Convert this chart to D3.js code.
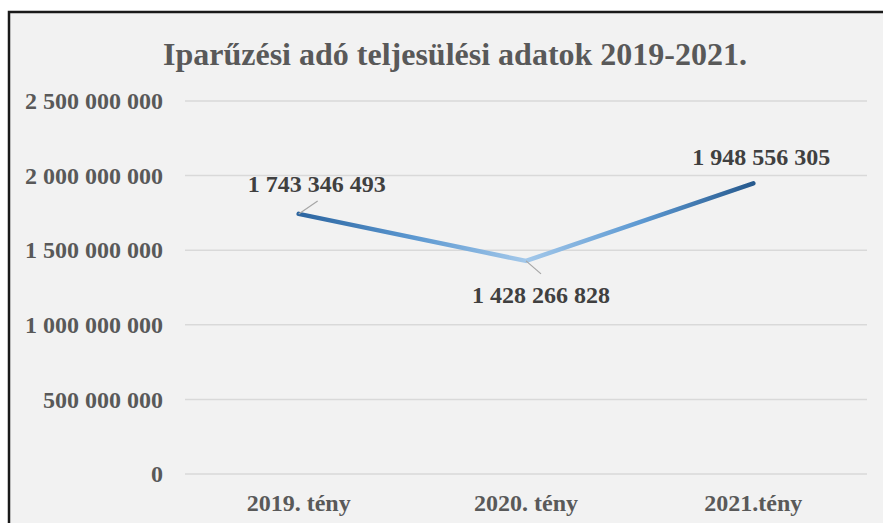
<!DOCTYPE html>
<meta charset="utf-8">
<html>
<head>
<script src="https://d3js.org/d3.v7.min.js"></script>
<style>
  body { margin: 0; background: #ffffff; overflow: hidden; }
  svg { display: block; font-family: "Liberation Serif", "Times New Roman", serif; }
</style>
</head>
<body>
<div id="chart"></div>
<script>
  // data
  const categories = ["2019. tény", "2020. tény", "2021.tény"];
  const values = [1743346493, 1428266828, 1948556305];
  const yTicks = [0, 500000000, 1000000000, 1500000000, 2000000000, 2500000000];
  const title = "Iparűzési adó teljesülési adatok 2019-2021.";

  const W = 883, H = 523;
  const margin = {top: 101, right: 16, bottom: 49, left: 185};
  const width = W - margin.left - margin.right,
        height = H - margin.top - margin.bottom;

  const fmt = v => d3.format(",")(v).replace(/,/g, " ");

  const svg = d3.select("#chart").append("svg")
      .attr("width", W)
      .attr("height", H);

  // chart area background + frame (right and bottom run off the picture)
  svg.append("rect")
      .attr("x", 9).attr("y", 12)
      .attr("width", W + 20).attr("height", H)
      .attr("fill", "#f2f2f2")
      .attr("stroke", "#1a1a1a")
      .attr("stroke-width", 2.5);

  svg.append("text")
      .attr("x", 455).attr("y", 65)
      .attr("text-anchor", "middle")
      .style("font-size", "32px")
      .style("font-weight", "bold")
      .attr("fill", "#595959")
      .text(title);

  const g = svg.append("g")
      .attr("transform", `translate(${margin.left},${margin.top})`);

  const x = d3.scaleBand()
      .domain(categories)
      .range([0, width]);

  const y = d3.scaleLinear()
      .domain([0, 2500000000])
      .range([height, 0]);

  // grid lines
  g.append("g")
    .selectAll("line")
    .data(yTicks)
    .join("line")
      .attr("x1", 0).attr("x2", width)
      .attr("y1", d => y(d)).attr("y2", d => y(d))
      .attr("stroke", "#d9d9d9")
      .attr("stroke-width", 1.5);

  // y axis
  const yAxis = g.append("g")
      .call(d3.axisLeft(y).tickValues(yTicks).tickFormat(fmt).tickSize(0).tickPadding(22));
  yAxis.select(".domain").remove();
  yAxis.selectAll("text")
      .style("font-size", "24px")
      .style("font-weight", "bold")
      .style("font-family", "Liberation Serif, serif")
      .attr("fill", "#595959");

  // x axis
  const xAxis = g.append("g")
      .attr("transform", `translate(0,${height})`)
      .call(d3.axisBottom(x).tickSize(0).tickPadding(0));
  xAxis.select(".domain").remove();
  xAxis.selectAll("text")
      .attr("dy", null)
      .attr("y", 37)
      .style("font-size", "24px")
      .style("font-weight", "bold")
      .style("font-family", "Liberation Serif, serif")
      .attr("fill", "#595959");

  const pts = categories.map((c, i) => ({c, v: values[i], px: x(c) + x.bandwidth() / 2, py: y(values[i])}));

  // gradient along the line: dark ends, light middle
  const grad = svg.append("defs").append("linearGradient")
      .attr("id", "lineGrad")
      .attr("gradientUnits", "userSpaceOnUse")
      .attr("x1", pts[0].px).attr("x2", pts[2].px)
      .attr("y1", 0).attr("y2", 0);
  grad.selectAll("stop")
    .data([
      {o: 0, c: "#2c65a0"},
      {o: 0.25, c: "#5b97d0"},
      {o: 0.5, c: "#a3c8ea"},
      {o: 0.75, c: "#5d99d2"},
      {o: 1, c: "#275a8e"}
    ])
    .join("stop")
      .attr("offset", d => d.o)
      .attr("stop-color", d => d.c);

  g.append("path")
      .datum(pts)
      .attr("d", d3.line().x(d => d.px).y(d => d.py))
      .attr("fill", "none")
      .attr("stroke", "url(#lineGrad)")
      .attr("stroke-width", 4.5)
      .attr("stroke-linecap", "round")
      .attr("stroke-linejoin", "round");

  // data labels with leader lines
  const labelPos = [
    {dx: 18, dy: -22, lx: 19, ly: -13},
    {dx: 15, dy: 42, lx: 15, ly: 13},
    {dx: 8, dy: -18, lx: null, ly: null}
  ];

  pts.forEach((p, i) => {
    const lp = labelPos[i];
    if (lp.lx !== null) {
      g.append("line")
          .attr("x1", p.px).attr("y1", p.py)
          .attr("x2", p.px + lp.lx).attr("y2", p.py + lp.ly)
          .attr("stroke", "#a6a6a6")
          .attr("stroke-width", 1.2);
    }
    g.append("text")
        .attr("x", p.px + lp.dx)
        .attr("y", p.py + lp.dy)
        .attr("text-anchor", "middle")
        .style("font-size", "24px")
        .style("font-weight", "bold")
        .attr("fill", "#404040")
        .text(fmt(p.v));
  });
</script>
</body>
</html>
